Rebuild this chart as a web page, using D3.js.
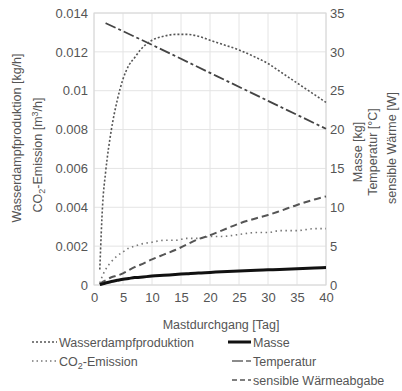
<!DOCTYPE html>
<html>
<head>
<meta charset="utf-8">
<script src="https://cdn.jsdelivr.net/npm/d3@7"></script>
<style>
  body { margin: 0; background: #fff; }
  svg { font-family: "Liberation Sans", Arial, sans-serif; }
</style>
</head>
<body>
<div id="chart"></div>
<script>
// days of the fattening period
const days = [1, 1.5, 2, 3, 4, 5, 6, 7, 8, 10, 12, 14, 16, 18, 20, 22, 25, 28, 30, 32, 35, 38, 40];
// left axis series
const wasserdampf = [0.0008, 0.0042, 0.0058, 0.0080, 0.0095, 0.0106, 0.0113, 0.0117, 0.0121, 0.0126, 0.0128, 0.0129, 0.0129, 0.0128,
                     0.0126, 0.0124, 0.0121, 0.0117, 0.0114, 0.0110, 0.0104, 0.0098, 0.0094];
const co2 = [0.0001, 0.0005, 0.0008, 0.0012, 0.0015, 0.0017, 0.0019, 0.0020, 0.0021, 0.0022, 0.0023, 0.0023, 0.0024, 0.0024,
             0.0025, 0.0025, 0.0026, 0.0027, 0.0027, 0.0028, 0.0028, 0.0029, 0.0029];
// right axis series
const masse = [0.05, 0.15, 0.25, 0.45, 0.6, 0.75, 0.85, 0.95, 1.0, 1.15, 1.25, 1.35, 1.45, 1.55, 1.62, 1.7, 1.8, 1.9, 1.95, 2.0, 2.1, 2.2, 2.25];
const waerme = [0.1, 0.4, 0.6, 1.0, 1.2, 1.5, 1.9, 2.3, 2.6, 3.3, 3.9, 4.5, 5.2, 5.9, 6.4, 7.0, 7.9, 8.6, 9.0, 9.5, 10.3, 11.0, 11.4];
const tempDays = [2, 10, 20, 30, 40];
const temperatur = [33.7, 30.9, 27.3, 23.7, 20.1];

const xTicks = [0, 5, 10, 15, 20, 25, 30, 35, 40];
const yLeftTicks = [0, 0.002, 0.004, 0.006, 0.008, 0.01, 0.012, 0.014];
const yRightTicks = [0, 5, 10, 15, 20, 25, 30, 35];

const W = 402, H = 391;
const pl = 94, pr = 326, pt = 13, pb = 285;

const svg = d3.select("#chart").append("svg")
    .attr("width", W).attr("height", H);

const x = d3.scaleLinear().domain([0, 40]).range([pl, pr]);
const yL = d3.scaleLinear().domain([0, 0.014]).range([pb, pt]);
const yR = d3.scaleLinear().domain([0, 35]).range([pb, pt]);

// grid
const grid = svg.append("g").attr("stroke", "#e4e4e4").attr("stroke-width", 1);
grid.selectAll(".gx").data(xTicks).enter().append("line")
    .attr("x1", d => x(d)).attr("x2", d => x(d)).attr("y1", pt).attr("y2", pb);
grid.selectAll(".gy").data(yLeftTicks).enter().append("line")
    .attr("y1", d => yL(d)).attr("y2", d => yL(d)).attr("x1", pl).attr("x2", pr);
svg.append("rect").attr("x", pl).attr("y", pt).attr("width", pr - pl).attr("height", pb - pt)
    .attr("fill", "none").attr("stroke", "#d8d8d8");

// axes
const fmt = d => String(+d.toFixed(3));
function styleAxis(g) {
    g.select(".domain").remove();
    g.selectAll("text").attr("fill", "#555").style("font-size", "13px");
}
svg.append("g").attr("transform", `translate(${pl},0)`)
    .call(d3.axisLeft(yL).tickValues(yLeftTicks).tickFormat(fmt).tickSize(0).tickPadding(6))
    .call(styleAxis);
svg.append("g").attr("transform", `translate(${pr},0)`)
    .call(d3.axisRight(yR).tickValues(yRightTicks).tickSize(0).tickPadding(4))
    .call(styleAxis);
svg.append("g").attr("transform", `translate(0,${pb})`)
    .call(d3.axisBottom(x).tickValues(xTicks).tickSize(0).tickPadding(8))
    .call(styleAxis);

// lines
function drawLine(xs, ys, yScale, stroke, width, dash) {
    const line = d3.line().x((d, i) => x(xs[i])).y(d => yScale(d)).curve(d3.curveMonotoneX);
    svg.append("path").datum(ys)
        .attr("d", line)
        .attr("fill", "none")
        .attr("stroke", stroke)
        .attr("stroke-width", width)
        .attr("stroke-dasharray", dash);
}
drawLine(days, co2, yL, "#777", 1.6, "1.5,3.5");
drawLine(days, waerme, yR, "#555", 2, "7,4");
drawLine(tempDays, temperatur, yR, "#444", 1.8, "11,3,3,3");
drawLine(days, wasserdampf, yL, "#555", 1.6, "2,2");
drawLine(days, masse, yR, "#111", 3, null);

// axis titles
const fs = "12.5px";
const txt = (g) => g.attr("fill", "#555").style("font-size", fs).attr("text-anchor", "middle");
svg.append("text").attr("x", 221).attr("y", 329).call(txt).text("Mastdurchgang [Tag]");

svg.append("text").attr("transform", "translate(21,138) rotate(-90)").call(txt)
    .text("Wasserdampfproduktion [kg/h]");
const co2Label = svg.append("text").attr("transform", "translate(42,155) rotate(-90)").call(txt);
co2Label.append("tspan").text("CO");
co2Label.append("tspan").attr("dy", 3).style("font-size", "9px").text("2");
co2Label.append("tspan").attr("dy", -3).text("-Emission [m");
co2Label.append("tspan").attr("dy", -4).style("font-size", "9px").text("3");
co2Label.append("tspan").attr("dy", 4).text("/h]");

svg.append("text").attr("transform", "translate(362,152) rotate(-90)").call(txt).text("Masse [kg]");
svg.append("text").attr("transform", "translate(377,152) rotate(-90)").call(txt).text("Temperatur [°C]");
svg.append("text").attr("transform", "translate(396,148) rotate(-90)").call(txt).text("sensible Wärme [W]");

// legend
const legendItems = [
    { x1: 32, x2: 57, y: 342, stroke: "#555", width: 1.4, dash: "2,2", label: "Wasserdampfproduktion" },
    { x1: 32, x2: 57, y: 361, stroke: "#777", width: 1.4, dash: "1.5,3", label: "CO2-Emission" },
    { x1: 228, x2: 251, y: 342, stroke: "#111", width: 3, dash: null, label: "Masse" },
    { x1: 232, x2: 251, y: 361, stroke: "#666", width: 1.4, dash: "11,3", label: "Temperatur" },
    { x1: 232, x2: 251, y: 380, stroke: "#555", width: 1.6, dash: "5,3", label: "sensible Wärmeabgabe" }
];
const lg = svg.append("g");
legendItems.forEach(d => {
    lg.append("line").attr("x1", d.x1).attr("x2", d.x2).attr("y1", d.y).attr("y2", d.y)
        .attr("stroke", d.stroke).attr("stroke-width", d.width).attr("stroke-dasharray", d.dash);
    const t = lg.append("text").attr("x", d.x2 + 2).attr("y", d.y + 4.5)
        .attr("fill", "#555").style("font-size", fs);
    if (d.label === "CO2-Emission") {
        t.append("tspan").text("CO");
        t.append("tspan").attr("dy", 3).style("font-size", "9px").text("2");
        t.append("tspan").attr("dy", -3).text("-Emission");
    } else {
        t.text(d.label);
    }
});
</script>
</body>
</html>
